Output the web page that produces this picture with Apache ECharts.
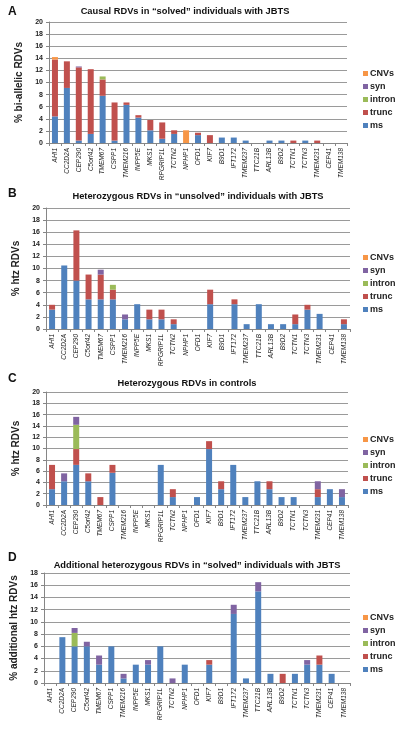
<!DOCTYPE html>
<html><head><meta charset="utf-8">
<script src="https://cdn.jsdelivr.net/npm/echarts@6/dist/echarts.min.js"></script>
<style>html,body{margin:0;padding:0;background:#fff}#c{width:400px;height:731px}</style>
</head><body><div id="c"></div>
<script>
const categories = ["AHI1","CC2D2A","CEP290","C5orf42","TMEM67","CSPP1","TMEM216","INPP5E","MKS1","RPGRIP1L","TCTN2","NPHP1","OFD1","KIF7","B9D1","IFT172","TMEM237","TTC21B","ARL13B","B9D2","TCTN1","TCTN3","TMEM231","CEP41","TMEM138"];
const seriesNames = ["ms","trunc","intron","syn","CNVs"];
const legendOrder = ["CNVs","syn","intron","trunc","ms"];

// Panel A: Causal RDVs in "solved" individuals (% bi-allelic RDVs)
const aMs     = [4.4,9.1,0.4,1.5,7.8,0.4,6.3,4.2,2.1,0.7,1.5,0,1.3,0,0.9,0.9,0.4,0,0.4,0.4,0,0.4,0,0,0];
const aTrunc  = [9.4,4.4,12.1,10.7,2.7,6.3,0.4,0.4,1.7,2.7,0.6,0,0.4,1.3,0,0,0,0,0,0,0.4,0,0.4,0,0];
const aIntron = [0,0,0,0,0.5,0,0,0,0,0,0,0,0,0,0,0,0,0,0,0,0,0,0,0,0];
const aSyn    = [0,0,0.15,0,0,0,0,0,0,0,0,0,0,0,0,0,0,0,0,0,0,0,0,0,0];
const aCnv    = [0.4,0,0,0,0,0,0,0,0,0,0,2.1,0,0,0,0,0,0,0,0,0,0,0,0,0];

// Panel B: Heterozygous RDVs in "unsolved" individuals (% htz RDVs)
const bMs     = [3.2,10.5,8.0,4.9,4.9,4.9,1.6,4.1,1.6,1.6,0.8,0,0,4.1,0,4.1,0.8,4.1,0.8,0.8,0.8,3.2,2.5,0,0.8];
const bTrunc  = [0.8,0,8.3,4.1,4.1,1.6,0,0,1.6,1.6,0.8,0,0,2.4,0,0.8,0,0,0,0,1.6,0.8,0,0,0.8];
const bIntron = [0,0,0,0,0,0.8,0,0,0,0,0,0,0,0,0,0,0,0,0,0,0,0,0,0,0];
const bSyn    = [0,0,0,0,0.8,0,0.8,0,0,0,0,0,0,0,0,0,0,0,0,0,0,0,0,0,0];
const bCnv    = [0,0,0,0,0,0,0,0,0,0,0,0,0,0,0,0,0,0,0,0,0,0,0,0,0];

// Panel C: Heterozygous RDVs in controls (% htz RDVs)
const cMs     = [2.8,4.2,7.1,4.2,0,5.7,0,0,0,7.1,1.4,0,1.4,9.9,2.8,7.1,1.4,4.2,2.8,1.4,1.4,0,1.4,2.8,1.4];
const cTrunc  = [4.3,0,2.8,1.4,1.4,1.4,0,0,0,0,1.4,0,0,1.4,1.4,0,0,0,1.4,0,0,0,1.4,0,0];
const cIntron = [0,0,4.3,0,0,0,0,0,0,0,0,0,0,0,0,0,0,0,0,0,0,0,0,0,0];
const cSyn    = [0,1.4,1.4,0,0,0,0,0,0,0,0,0,0,0,0,0,0,0,0,0,0,0,1.4,0,1.4];
const cCnv    = [0,0,0,0,0,0,0,0,0,0,0,0,0,0,0,0,0,0,0,0,0,0,0,0,0];

// Panel D: Additional heterozygous RDVs in "solved" individuals (% additional htz RDVs)
const dMs     = [0,7.5,6.0,6.0,3.0,6.0,0.75,3.0,3.0,6.0,0,3.0,0,3.0,0,11.3,0.75,15.0,1.5,0,1.5,3.0,3.0,1.5,0];
const dTrunc  = [0,0,0,0,0,0,0,0,0,0,0,0,0,0.75,0,0,0,0,0,1.5,0,0,1.5,0,0];
const dIntron = [0,0,2.2,0,0,0,0,0,0,0,0,0,0,0,0,0,0,0,0,0,0,0,0,0,0];
const dSyn    = [0,0,0.8,0.75,1.5,0,0.75,0,0.75,0,0.75,0,0,0,0,1.5,0,1.5,0,0,0,0.75,0,0,0];
const dCnv    = [0,0,0,0,0,0,0,0,0,0,0,0,0,0,0,0,0,0,0,0,0,0,0,0,0];

const titles = [
  "Causal RDVs in \u201csolved\u201d individuals with JBTS",
  "Heterozygous RDVs in \u201cunsolved\u201d individuals with JBTS",
  "Heterozygous RDVs in controls",
  "Additional heterozygous RDVs in \u201csolved\u201d individuals with JBTS"
];
const yNames = ["% bi-allelic RDVs","% htz RDVs","% htz RDVs","% additional htz RDVs"];
const yMax = [20,20,20,18];
const panelLetters = ["A","B","C","D"];

const panels = [
  [aMs,aTrunc,aIntron,aSyn,aCnv],
  [bMs,bTrunc,bIntron,bSyn,bCnv],
  [cMs,cTrunc,cIntron,cSyn,cCnv],
  [dMs,dTrunc,dIntron,dSyn,dCnv]
];
const colors = {ms:"#4F81BD",trunc:"#C0504D",intron:"#9BBB59",syn:"#8064A2",CNVs:"#F79646"};

const layout = [
  {left:49,right:53,top:22,height:121,titleTop:7,titleX:185,letterTop:6,legendTop:64,yNameX:24},
  {left:46,right:50,top:208,height:121,titleTop:192,titleX:198,letterTop:188,legendTop:248,yNameX:25},
  {left:46,right:52,top:392,height:113,titleTop:379,titleX:187,letterTop:373,legendTop:430,yNameX:25},
  {left:44,right:50,top:573,height:110,titleTop:561,titleX:197,letterTop:552,legendTop:608,yNameX:24}
];

const grid=[],xAxis=[],yAxis=[],series=[],legend=[],graphic=[];
layout.forEach((L,i)=>{
  grid.push({left:L.left,right:L.right,top:L.top,height:L.height,containLabel:false});
  xAxis.push({type:"category",gridIndex:i,data:categories,
    axisLine:{lineStyle:{color:"#868686"}},
    axisTick:{show:true,length:3,lineStyle:{color:"#868686"}},
    axisLabel:{rotate:90,interval:0,fontSize:6.5,fontStyle:"italic",color:"#222",fontFamily:"Liberation Sans",margin:5}});
  yAxis.push({type:"value",gridIndex:i,min:0,max:yMax[i],interval:2,
    name:yNames[i],nameLocation:"middle",nameGap:L.left-L.yNameX-6,nameRotate:90,
    nameTextStyle:{fontSize:10,fontWeight:"bold",color:"#222",fontFamily:"Liberation Sans"},
    axisLine:{show:true,lineStyle:{color:"#868686"}},
    axisTick:{show:true,length:3,lineStyle:{color:"#868686"}},
    splitLine:{lineStyle:{color:"#9a9a9a",width:1}},
    axisLabel:{fontSize:7,fontWeight:"bold",color:"#222",fontFamily:"Liberation Sans",margin:6}});
  seriesNames.forEach((n,k)=>{
    series.push({name:n,type:"bar",stack:"s"+i,xAxisIndex:i,yAxisIndex:i,barWidth:6,
      itemStyle:{color:colors[n]},data:panels[i][k].map(v=>v===0?null:v)});
  });
  legend.push({orient:"vertical",left:358,top:L.legendTop,data:legendOrder,icon:"rect",
    itemWidth:5,itemHeight:5,itemGap:4,selectedMode:false,
    textStyle:{fontSize:9,fontWeight:"bold",color:"#222",fontFamily:"Liberation Sans",padding:[0,0,0,-3]}});
  graphic.push({type:"text",x:L.titleX,y:L.titleTop,style:{text:titles[i],font:"bold 9.3px Liberation Sans",fill:"#111",textAlign:"center"}});
  graphic.push({type:"text",x:8,y:L.letterTop,style:{text:panelLetters[i],font:"bold 12px Liberation Sans",fill:"#111"}});
});

const chart = echarts.init(document.getElementById("c"),null,{renderer:"canvas"});
chart.setOption({animation:false,backgroundColor:"#fff",grid,xAxis,yAxis,series,legend,graphic});
</script></body></html>
